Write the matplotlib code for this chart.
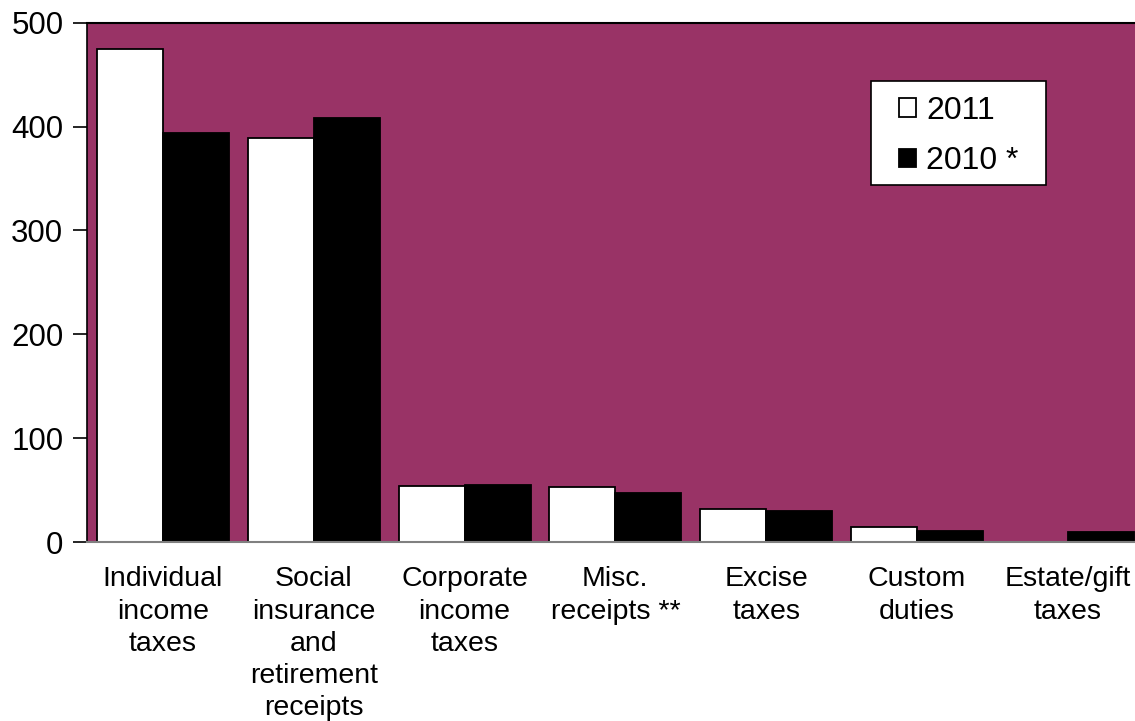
"""Federal receipts by source, 2011 vs 2010."""

import numpy as np
import matplotlib
matplotlib.use("Agg")
import matplotlib.pyplot as plt
from matplotlib.patches import Rectangle

# Data
categories = [
    "Individual\nincome\ntaxes",
    "Social\ninsurance\nand\nretirement\nreceipts",
    "Corporate\nincome\ntaxes",
    "Misc.\nreceipts **",
    "Excise\ntaxes",
    "Custom\nduties",
    "Estate/gift\ntaxes",
]
values_2011 = [475, 389, 54, 53, 32, 14, np.nan]
values_2010 = [394, 408, 55, 47, 30, 11, 9.5]
y_ticks = [0, 100, 200, 300, 400, 500]

plt.rcParams["font.family"] = ["Liberation Sans", "DejaVu Sans"]

W, H = 1135, 721
fig = plt.figure(figsize=(W / 100, H / 100), dpi=100)
ax = fig.add_axes([87 / W, 1 - 542 / H, 1 - 87 / W, (542 - 22.7) / H])
ax.set_facecolor("#993366")

x = np.arange(len(categories))
width = 0.438
ax.bar(x - width / 2, values_2011, width, color="white", edgecolor="black",
       linewidth=1.3, label="2011", zorder=2)
ax.bar(x + width / 2, values_2010, width, color="black", edgecolor="black",
       linewidth=1.3, label="2010 *", zorder=2)

ax.set_xlim(-0.504, 6.446)
ax.set_ylim(0, 500)
ax.set_yticks(y_ticks)
ax.set_xticks(x)
ax.set_xticklabels(categories, fontsize=20.5, linespacing=1.31, va="top")
ax.tick_params(axis="y", labelsize=22.5, length=10, width=1.2, pad=7, direction="out")
ax.tick_params(axis="x", length=0, pad=17.5)

# Spines: black on left/top, grey baseline
ax.spines["left"].set_color("black")
ax.spines["left"].set_linewidth(1.2)
ax.spines["top"].set_color("black")
ax.spines["top"].set_linewidth(1.5)
ax.spines["bottom"].set_color("#808080")
ax.spines["bottom"].set_linewidth(1.5)
ax.spines["right"].set_visible(False)

# Legend box drawn separately so the padding can match the original
box = Rectangle((871 / W, 1 - 184.5 / H), 175 / W, 103.5 / H,
                transform=fig.transFigure, facecolor="white",
                edgecolor="black", linewidth=1.2, zorder=5, clip_on=False)
ax.add_patch(box)
leg = ax.legend(loc="center", bbox_to_anchor=(959 / W, 1 - 136 / H),
                bbox_transform=fig.transFigure, fontsize=23, frameon=False,
                handlelength=0.53, handleheight=0.53, handletextpad=0.31,
                labelspacing=0.65, borderpad=0, borderaxespad=0)
leg.set_zorder(6)

fig.savefig("out.png", dpi=100)
